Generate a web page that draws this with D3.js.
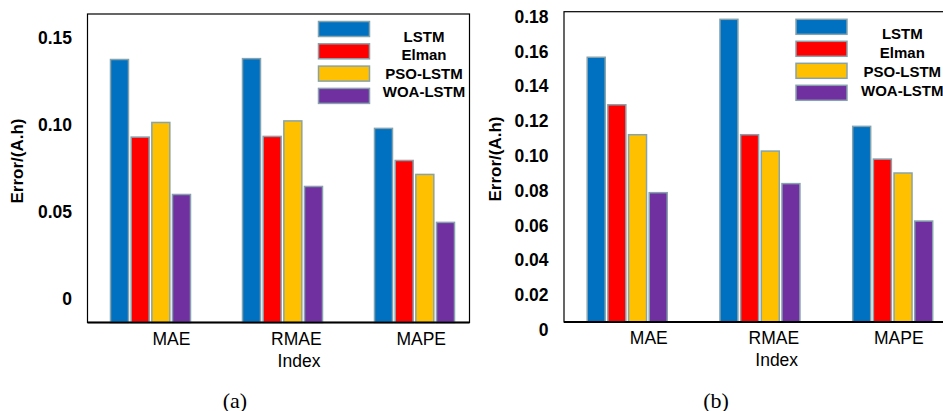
<!DOCTYPE html>
<html>
<head>
<meta charset="utf-8">
<script src="https://cdn.jsdelivr.net/npm/d3@7"></script>
<style>
  html, body { margin: 0; padding: 0; background: #fff; }
  svg { display: block; }
</style>
</head>
<body>
<svg id="chart" width="943" height="411"></svg>
<script>
// ---------- data ----------
const categories = ["MAE", "RMAE", "MAPE"];
const seriesNames = ["LSTM", "Elman", "PSO-LSTM", "WOA-LSTM"];
const seriesColors = ["#0070C0", "#FF0000", "#FFC000", "#7030A0"];

// panel (a)
const lstmA = [0.1375, 0.1380, 0.0980];
const elmanA = [0.0930, 0.0934, 0.0796];
const psoA = [0.1014, 0.1023, 0.0716];
const woaA = [0.0601, 0.0647, 0.0441];
const ticksA = [0, 0.05, 0.10, 0.15];

// panel (b)
const lstmB = [0.1567, 0.1785, 0.1170];
const elmanB = [0.1294, 0.1122, 0.0982];
const psoB = [0.1122, 0.1028, 0.0902];
const woaB = [0.0789, 0.0841, 0.0626];
const ticksB = [0, 0.02, 0.04, 0.06, 0.08, 0.10, 0.12, 0.14, 0.16, 0.18];

const yLabel = "Error/(A.h)";
const xLabel = "Index";

// ---------- drawing ----------
const svg = d3.select("#chart");
const SANS = "Liberation Sans";
const SERIF = "Liberation Serif";

function drawPanel(cfg) {
  const series = cfg.series;
  const g = svg.append("g");

  // frame
  g.append("rect")
    .attr("x", cfg.frame.left).attr("y", cfg.frame.top)
    .attr("width", cfg.frame.right - cfg.frame.left)
    .attr("height", cfg.frame.bottom - cfg.frame.top)
    .attr("fill", "none").attr("stroke", "#000").attr("stroke-width", 1.2);

  const y = d3.scaleLinear()
    .domain([0, cfg.ticks[cfg.ticks.length - 1]])
    .range(cfg.yRange);

  const xGroup = d3.scalePoint().domain(categories).range(cfg.groupRange);
  const xSeries = d3.scaleBand().domain(seriesNames)
    .range([-cfg.groupWidth / 2, cfg.groupWidth / 2]).paddingInner(0.13);

  // bars
  const barData = [];
  categories.forEach((c, ci) => {
    seriesNames.forEach((s, si) => {
      barData.push({ cat: c, name: s, color: seriesColors[si], value: series[si][ci] });
    });
  });
  g.append("g").selectAll("rect").data(barData).join("rect")
    .attr("x", d => xGroup(d.cat) + xSeries(d.name))
    .attr("y", d => y(d.value))
    .attr("width", xSeries.bandwidth())
    .attr("height", d => cfg.frame.bottom - y(d.value))
    .attr("fill", d => d.color)
    .attr("stroke", "#86a3ad").attr("stroke-width", 1.5);

  // bottom axis line
  g.append("line")
    .attr("x1", cfg.frame.left).attr("x2", cfg.frame.right)
    .attr("y1", cfg.frame.bottom).attr("y2", cfg.frame.bottom)
    .attr("stroke", "#000").attr("stroke-width", 2.2);

  // y tick labels
  const yAxis = d3.axisLeft(y).tickValues(cfg.ticks).tickSize(0).tickPadding(0)
    .tickFormat(d => d === 0 ? "0" : d3.format(".2f")(d));
  const ya = g.append("g").attr("transform", `translate(${cfg.tickRight},0)`).call(yAxis);
  ya.select(".domain").remove();
  ya.selectAll("text")
    .style("font-family", SANS).style("font-size", "17.5px").style("font-weight", "bold")
    .attr("fill", "#000");

  // x category labels
  const xLab = d3.scalePoint().domain(categories).range(cfg.labelRange);
  const xAxis = d3.axisBottom(xLab).tickSize(0).tickPadding(0);
  const xa = g.append("g").attr("transform", `translate(0,${cfg.catY})`).call(xAxis);
  xa.select(".domain").remove();
  xa.selectAll("text")
    .style("font-family", SANS).style("font-size", "17.5px").attr("fill", "#000")
    .attr("dy", "0.35em").attr("y", 0);

  // axis titles
  g.append("text")
    .attr("x", cfg.indexX).attr("y", cfg.indexY)
    .attr("text-anchor", "middle").attr("dominant-baseline", "central")
    .style("font-family", SANS).style("font-size", "17.5px").attr("fill", "#000")
    .text(xLabel);

  g.append("text")
    .attr("transform", `translate(${cfg.yTitleX},${cfg.yTitleY}) rotate(-90)`)
    .attr("text-anchor", "middle").attr("dominant-baseline", "central")
    .style("font-family", SANS).style("font-size", "17px").style("font-weight", "bold")
    .attr("fill", "#000")
    .text(yLabel);

  // legend
  const lg = g.append("g");
  seriesNames.forEach((s, i) => {
    lg.append("rect")
      .attr("x", cfg.legend.x).attr("y", cfg.legend.y + i * cfg.legend.step)
      .attr("width", 51).attr("height", 15)
      .attr("fill", seriesColors[i]).attr("stroke", "#86a3ad").attr("stroke-width", 1.5);
    lg.append("text")
      .attr("x", cfg.legend.textX).attr("y", cfg.legend.textY + i * cfg.legend.textStep)
      .attr("text-anchor", "middle").attr("dominant-baseline", "central")
      .style("font-family", SANS).style("font-size", "15px").style("font-weight", "bold")
      .attr("fill", "#000")
      .text(s);
  });

  // caption
  g.append("text")
    .attr("x", cfg.captionX).attr("y", 400)
    .attr("text-anchor", "middle").attr("dominant-baseline", "central")
    .style("font-family", SERIF).style("font-size", "22px").attr("fill", "#000")
    .text(cfg.caption);
}

drawPanel({
  series: [lstmA, elmanA, psoA, woaA],
  ticks: ticksA,
  frame: { left: 87.5, top: 14, right: 469.5, bottom: 322.5 },
  yRange: [299.3, 37.7],
  groupRange: [150.5, 414.5],
  groupWidth: 80,
  labelRange: [171, 420.7],
  catY: 339,
  tickRight: 72,
  indexX: 299, indexY: 360.5,
  yTitleX: 17.5, yTitleY: 161,
  legend: { x: 318.5, y: 21.5, step: 22.3, textX: 424, textY: 36, textStep: 18.6 },
  captionX: 235,
  caption: "(a)"
});

drawPanel({
  series: [lstmB, elmanB, psoB, woaB],
  ticks: ticksB,
  frame: { left: 564, top: 11.7, right: 948, bottom: 322 },
  yRange: [330, 16.7],
  groupRange: [627.2, 892.7],
  groupWidth: 80,
  labelRange: [648.3, 898.3],
  catY: 338.3,
  tickRight: 548.5,
  indexX: 776.7, indexY: 360,
  yTitleX: 495, yTitleY: 159,
  legend: { x: 796, y: 19.3, step: 22, textX: 902.3, textY: 33.3, textStep: 18.9 },
  captionX: 716,
  caption: "(b)"
});
</script>
</body>
</html>
